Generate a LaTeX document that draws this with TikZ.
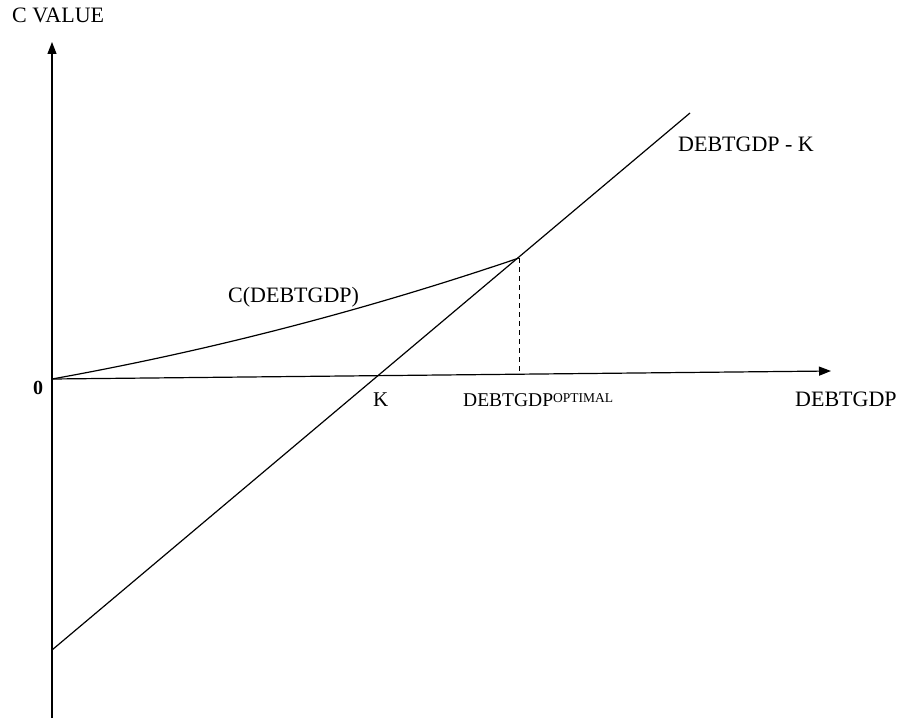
\documentclass[tikz,border=0pt]{standalone}
\usepackage{fontspec}
\setmainfont{Liberation Serif}
\usetikzlibrary{arrows.meta}
\begin{document}
\begin{tikzpicture}[x=1pt,y=-1pt,
  axis/.style={line width=1.2pt,-{Triangle[length=12pt,width=9pt]}},
  curve/.style={line width=1.2pt},
  guide/.style={line width=1pt,dash pattern=on 5pt off 4pt},
  lbl/.style={inner sep=0pt,anchor=base west,font=\fontsize{22}{26}\selectfont}]
\useasboundingbox (0,0) rectangle (899,722);
% key points
\coordinate (O) at (52,379);
\coordinate (Ybot) at (52,718);
\coordinate (Ytop) at (52,42);
\coordinate (Xend) at (831,371);
\coordinate (Lstart) at (52,650);
\coordinate (Lend) at (690,113);
\coordinate (Opt) at (519,258);
\coordinate (OptBase) at (519,374);
% axes
\draw[axis] (Ybot) -- (Ytop);
\draw[axis] (O) -- (Xend);
% payoff line and cost curve
\draw[curve] (Lstart) -- (Lend);
\draw[curve] (O) .. controls (208,351) and (363,311) .. (Opt);
\draw[guide] (Opt) -- (OptBase);
% labels
\node[lbl] (yl) at (12,23) {C VALUE};
\node[lbl,font=\fontsize{20}{24}\selectfont\bfseries] (zero) at (33,394) {0};
\node[lbl,font=\fontsize{21}{24}\selectfont] (kl) at (373,406) {K};
\node[lbl,font=\fontsize{19.5}{24}\selectfont] (opt) at (463,406)
  {DEBTGDP\raisebox{4pt}{\fontsize{13.5}{14}\selectfont OPTIMAL}};
\node[lbl] (xl) at (795,406) {DEBTGDP};
\node[lbl] (linel) at (678,152) {DEBTGDP - K};
\node[lbl] (cl) at (228,302) {C(DEBTGDP)};
\end{tikzpicture}
\end{document}
